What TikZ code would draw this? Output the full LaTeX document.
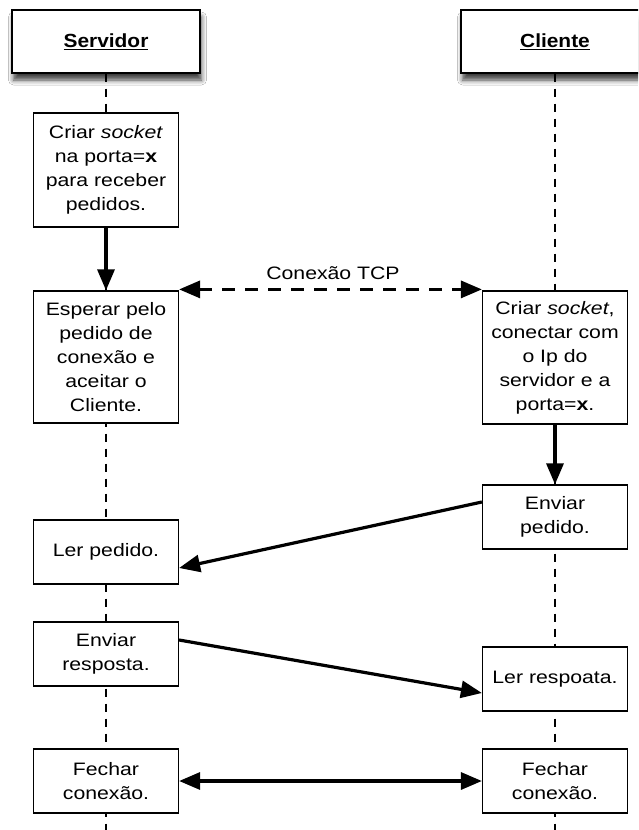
\documentclass[tikz,border=0pt]{standalone}
\usepackage{fontspec}
\setmainfont{Liberation Sans}[FakeStretch=1.18]
\newfontfamily\hdrfont{Liberation Sans}[FakeStretch=1.1]
\usetikzlibrary{arrows.meta,shadows.blur}
\tikzset{
  stepbox/.style={draw, line width=1.2pt, fill=white, minimum width=145pt,
    align=center, inner sep=0pt, font=\fontsize{18}{24}\selectfont},
  hdr/.style={draw, line width=1.3pt, fill=white, minimum width=188pt, minimum height=63pt,
    inner sep=0pt, font=\hdrfont\bfseries\fontsize{19}{22}\selectfont,
    blur shadow={shadow xshift=1.5pt, shadow yshift=-7pt, shadow blur radius=5pt, shadow opacity=75}},
  lifeline/.style={line width=1.1pt, dash pattern=on 8pt off 7pt},
  arr/.style={line width=3.2pt, -{Triangle[length=21pt,width=17pt]}},
  darr/.style={line width=3.2pt, {Triangle[length=21pt,width=17pt]}-{Triangle[length=21pt,width=17pt]}},
}
\begin{document}
\begin{tikzpicture}[x=1pt,y=-1pt]
\useasboundingbox (0,0) rectangle (638,830);
\clip (0,0) rectangle (638,830);
\fill[white] (0,0) rectangle (638,830);

% headers
\node[hdr] (srv) at (106,41.5) {\underline{Servidor}};
\node[hdr] (cli) at (555,41.5) {\underline{Cliente}};

% lifelines
\coordinate (srvend) at (106,832);
\coordinate (cliend) at (555,832);
\draw[lifeline] (srv.south) -- (srvend);
\draw[lifeline] (cli.south) -- (cliend);

% server boxes
\node[stepbox, minimum height=114pt] (s1) at (106,170) {Criar \textit{socket}\\na porta=\textbf{x}\\para receber\\pedidos.};
\node[stepbox, minimum height=132pt] (s2) at (106,357) {Esperar pelo\\pedido de\\conexão e\\aceitar o\\Cliente.};
\node[stepbox, minimum height=64pt] (s3) at (106,552) {Ler pedido.};
\node[stepbox, minimum height=64pt] (s4) at (106,654) {Enviar\\resposta.};
\node[stepbox, minimum height=64pt] (s5) at (106,781) {Fechar\\conexão.};

% client boxes
\node[stepbox, minimum height=133pt] (c1) at (555,357.5) {Criar \textit{socket},\\conectar com\\o Ip do\\servidor e a\\porta=\textbf{x}.};
\node[stepbox, minimum height=64pt] (c2) at (555,517) {Enviar\\pedido.};
\node[stepbox, minimum height=64pt] (c3) at (555,679) {Ler respoata.};
\node[stepbox, minimum height=64pt] (c4) at (555,781) {Fechar\\conexão.};

% connectors
\draw[arr] (s1) -- (s2);
\draw[darr, dash pattern=on 13pt off 10pt] ([yshift=1pt]s2.north east) -- ([yshift=1pt]c1.north west);
\node[font=\fontsize{18}{20}\selectfont] (tcp) at (333,273) {Conexão TCP};
\draw[arr] (c1) -- (c2);
\draw[arr] ([yshift=15pt]c2.west) -- ([yshift=-16pt]s3.east);
\draw[arr] ([yshift=14pt]s4.east) -- ([yshift=-14pt]c3.west);
\draw[darr] (s5.east) -- (c4.west);
\end{tikzpicture}
\end{document}
